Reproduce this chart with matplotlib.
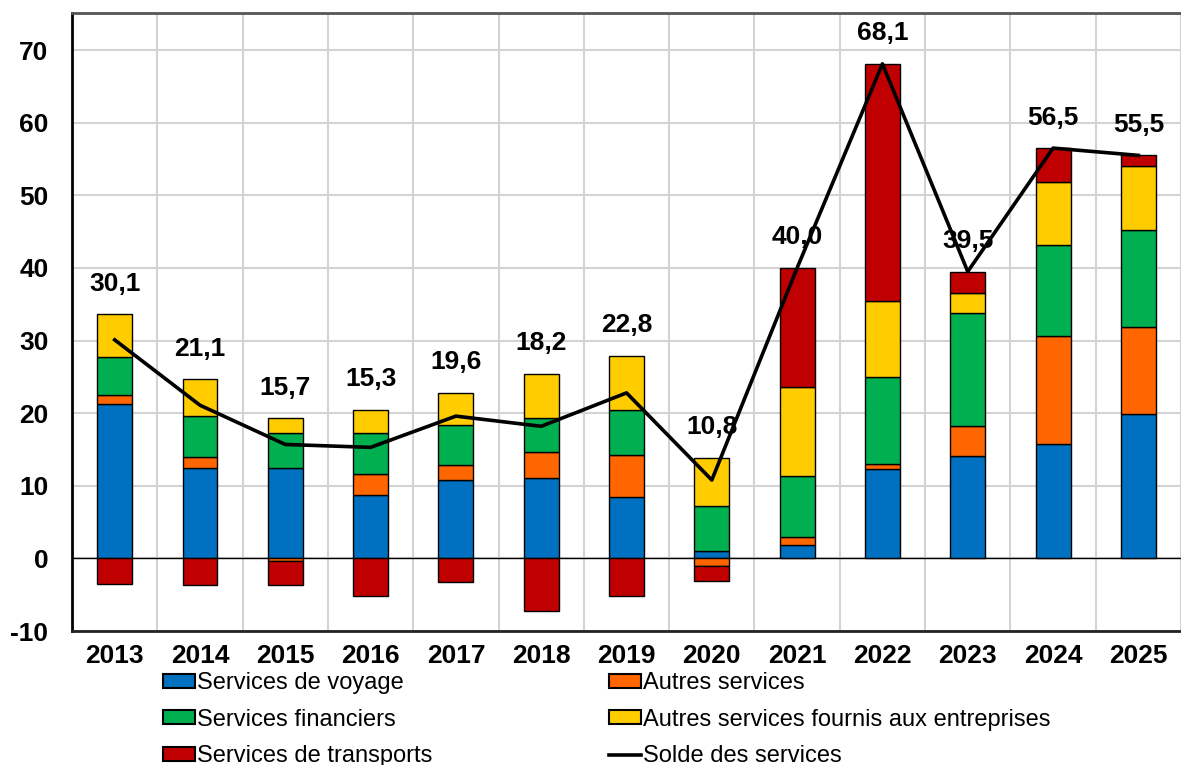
import matplotlib
matplotlib.use("Agg")
import matplotlib.pyplot as plt
from matplotlib.patches import Patch
from matplotlib.lines import Line2D
import numpy as np

plt.rcParams['font.family'] = ['Liberation Sans', 'DejaVu Sans']
plt.rcParams['axes.unicode_minus'] = False

years = ['2013', '2014', '2015', '2016', '2017', '2018', '2019',
         '2020', '2021', '2022', '2023', '2024', '2025']

voyage = [21.3, 12.4, 12.4, 8.8, 10.8, 11.1, 8.4, 1.0, 1.9, 12.3, 14.1, 15.7, 19.9]
autres = [1.2, 1.6, -0.3, 2.8, 2.1, 3.6, 5.9, -1.1, 1.1, 0.7, 4.1, 14.9, 12.0]
financiers = [5.3, 5.6, 4.9, 5.7, 5.5, 4.7, 6.1, 6.2, 8.3, 12.0, 15.6, 12.5, 13.3]
entreprises = [5.8, 5.1, 2.0, 3.2, 4.4, 6.0, 7.5, 6.7, 12.3, 10.5, 2.7, 8.7, 8.8]
transports = [-3.5, -3.6, -3.3, -5.2, -3.2, -7.2, -5.1, -2.0, 16.4, 32.6, 3.0, 4.7, 1.5]
solde = [30.1, 21.1, 15.7, 15.3, 19.6, 18.2, 22.8, 10.8, 40.0, 68.1, 39.5, 56.5, 55.5]

series = [
    ('Services de voyage', voyage, '#0070C0'),
    ('Autres services', autres, '#FF6600'),
    ('Services financiers', financiers, '#00B050'),
    ('Autres services fournis aux entreprises', entreprises, '#FFCC00'),
    ('Services de transports', transports, '#C00000'),
]

fig = plt.figure(figsize=(11.81, 7.65), dpi=100)
ax = fig.add_axes([0.061, 0.175, 0.939, 0.808])

x = np.arange(len(years))
pos_base = np.zeros(len(years))
neg_base = np.zeros(len(years))
for name, vals, color in series:
    v = np.array(vals, dtype=float)
    base = np.where(v >= 0, pos_base, neg_base)
    ax.bar(x, v, 0.41, bottom=base, color=color, edgecolor='black',
           linewidth=1.0, zorder=3)
    pos_base = pos_base + np.where(v >= 0, v, 0)
    neg_base = neg_base + np.where(v < 0, v, 0)

ax.plot(x, solde, color='black', linewidth=2.6, zorder=4)

for xi, tot, s in zip(x, pos_base, solde):
    top = max(tot, s)
    ax.annotate(f"{s:.1f}".replace('.', ','), (xi, top),
                xytext=(0, 22), textcoords='offset points',
                ha='center', va='center', fontsize=19, fontweight='bold',
                zorder=5)

ax.axhline(0, color='black', linewidth=1.0, zorder=2)

ax.set_xlim(-0.5, 12.395)
ax.set_ylim(-10, 75.1)
ax.set_yticks(np.arange(-10, 71, 10))
ax.set_xticks(x)
ax.set_xticklabels(years)
ax.set_xticks(np.arange(-0.5, 12.6, 1), minor=True)

ax.grid(axis='y', which='major', color='#d3d3d3', linewidth=1.5, zorder=0)
ax.grid(axis='x', which='minor', color='#d3d3d3', linewidth=1.5, zorder=0)
ax.grid(axis='x', which='major', visible=False)

ax.tick_params(axis='both', which='both', length=0)
ax.tick_params(axis='y', pad=17, labelsize=19)
ax.tick_params(axis='x', pad=9, labelsize=19)
for lab in ax.get_xticklabels() + ax.get_yticklabels():
    lab.set_fontweight('bold')

ax.spines['left'].set_color('black')
ax.spines['left'].set_linewidth(2.0)
ax.spines['bottom'].set_color('#222222')
ax.spines['bottom'].set_linewidth(2.0)
ax.spines['top'].set_color('#555555')
ax.spines['top'].set_linewidth(2.0)
ax.spines['right'].set_visible(False)

handles = []
for name, vals, color in series:
    handles.append(Patch(facecolor=color, edgecolor='black', linewidth=1.5, label=name))
handles.append(Line2D([0], [0], color='black', linewidth=2.6, label='Solde des services'))

order = [0, 2, 4, 1, 3, 5]
leg = fig.legend([handles[i] for i in order],
                 [handles[i].get_label() for i in order],
                 loc='upper left', bbox_to_anchor=(163 / 1181, 1 - 672 / 765),
                 ncol=2, frameon=False, fontsize=17, borderpad=0,
                 borderaxespad=0, handlelength=1.35, handleheight=0.55,
                 handletextpad=0.08, labelspacing=0.62, columnspacing=7.5)

fig.savefig('out.png', dpi=100)
